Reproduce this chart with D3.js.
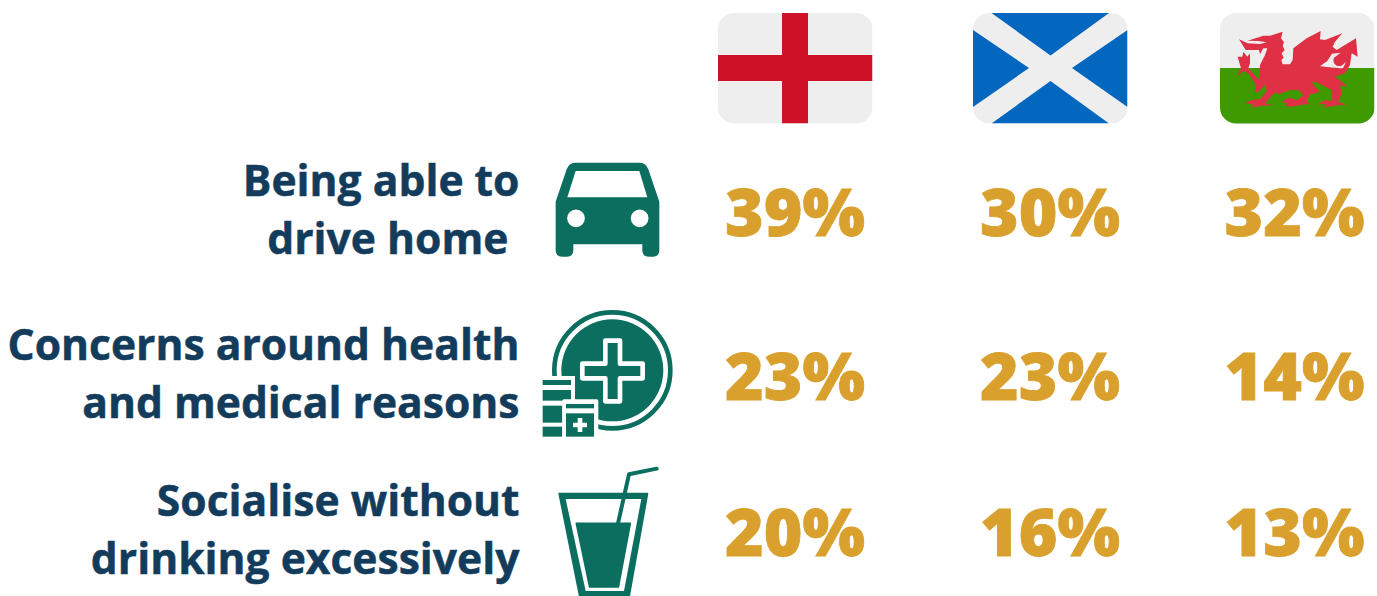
<!DOCTYPE html>
<html>
<head>
<meta charset="utf-8">
<script src="https://cdn.jsdelivr.net/npm/d3@7"></script>
<style>
html,body{margin:0;padding:0;background:#fff;overflow:hidden}
svg{display:block}
text{font-family:"Open Sans",sans-serif;white-space:pre}
</style>
</head>
<body>
<svg id="chart" width="1377" height="596"></svg>
<script>
const nations = ["England", "Scotland", "Wales"];
const reasons = ["drive", "health", "socialise"];
const reasonLines = [
  ["Being able to", "drive home "],
  ["Concerns around health", "and medical reasons"],
  ["Socialise without", "drinking excessively"]
];
const england = [39, 23, 20];
const scotland = [30, 23, 16];
const wales = [32, 14, 13];
const seriesByNation = [england, scotland, wales];

const NAVY = "#133c5c", GOLD = "#d9a02e", TEAL = "#0b6e5f", PALE = "#eeeeee";

const svg = d3.select("#chart");
const x = d3.scaleOrdinal().domain(nations).range([795, 1050, 1294.5]);
const y = d3.scaleOrdinal().domain(reasons).range([236, 400, 556]);
const flagLeft = d3.scaleOrdinal().domain(nations).range([718, 973, 1220]);
const flagW = 154.5, flagH = 110.5, flagTop = 13;

// Percentage grid
nations.forEach((n, c) => {
  svg.append("g").selectAll("text").data(seriesByNation[c]).join("text")
    .attr("x", x(n))
    .attr("y", (d, i) => y(reasons[i]))
    .attr("text-anchor", "middle")
    .attr("font-size", 66)
    .attr("font-weight", 800)
    .attr("fill", GOLD)
    .attr("stroke", GOLD)
    .attr("stroke-width", 0.8)
    .text(d => d + "%");
});

// Row labels, two right-aligned lines each
const labelRows = svg.append("g").selectAll("g").data(reasonLines).join("g")
  .attr("transform", (d, i) => `translate(519.5,${y(reasons[i]) - 40})`);
labelRows.selectAll("text").data(d => d).join("text")
  .attr("y", (d, i) => i * 58)
  .attr("text-anchor", "end")
  .attr("font-size", 42.6)
  .attr("font-weight", 700)
  .attr("fill", NAVY)
  .attr("stroke", NAVY)
  .attr("stroke-width", 0.5)
  .text(d => d);

// Flags
const defs = svg.append("defs");
nations.forEach((n, i) => {
  defs.append("clipPath").attr("id", "clip" + i).append("rect")
    .attr("x", 0).attr("y", 0).attr("width", flagW).attr("height", flagH).attr("rx", 16);
});
const flag = n => svg.append("g")
  .attr("transform", `translate(${flagLeft(n)},${flagTop})`)
  .attr("clip-path", `url(#clip${nations.indexOf(n)})`);

const fe = flag("England");
fe.append("rect").attr("width", flagW).attr("height", flagH).attr("fill", PALE);
fe.append("rect").attr("x", 64).attr("width", 26).attr("height", flagH).attr("fill", "#ce1126");
fe.append("rect").attr("y", 42).attr("width", flagW).attr("height", 26).attr("fill", "#ce1126");

const fs = flag("Scotland");
fs.append("rect").attr("width", flagW).attr("height", flagH).attr("fill", PALE);
[[[18.5,0],[136,0],[77.5,42.5]],
 [[0,17],[56,55],[0,94]],
 [[154.5,17],[99,55],[154.5,94]],
 [[18.5,110.5],[136,110.5],[77.5,68]]].forEach(t =>
  fs.append("path").attr("d", d3.line()(t) + "Z").attr("fill", "#0366bf"));

const fw = flag("Wales");
fw.append("rect").attr("width", flagW).attr("height", 55).attr("fill", PALE);
fw.append("rect").attr("y", 55).attr("width", flagW).attr("height", 56).attr("fill", "#3f9900");

// Dragon outline, traced on a 3x grid
const dragon = [[113,107],[160,92],[180,92],[218,80],[213,100],[222,112],[218,122],[224,135],[215,145],[221,158],[214,165],[218,178],[240,178],[248,165],[250,130],[290,100],[332,78],[330,103],[345,105],[397,85],[375,110],[368,125],[380,135],[438,100],[443,155],[425,145],[420,180],[405,205],[375,215],[405,238],[410,245],[390,240],[395,265],[385,290],[410,300],[385,300],[360,305],[340,308],[350,298],[325,298],[345,285],[365,288],[365,255],[345,245],[320,232],[305,232],[330,262],[300,268],[290,290],[300,297],[270,300],[245,305],[225,303],[232,295],[215,292],[235,278],[262,285],[280,270],[265,255],[240,255],[205,268],[195,262],[165,295],[190,300],[150,303],[125,308],[130,298],[105,295],[125,285],[150,283],[170,258],[165,240],[145,260],[135,263],[138,240],[115,205],[100,198],[80,215],[93,190],[83,155],[97,155],[100,140],[112,155],[120,145],[120,175],[115,190],[148,225],[150,180],[165,150],[172,130],[160,130],[150,148],[147,135],[120,135],[107,135],[87,103],[113,115],[150,117],[170,112],[145,108]];
const dragonG = svg.append("g").attr("transform", "translate(1210,5) scale(0.3333)");
dragonG.append("path").attr("d", d3.line()(dragon) + "Z").attr("fill", "#e03046");
dragonG.append("path")
  .attr("d", "M330,184 L352,168 L366,146 L392,143 L372,158 C366,172 378,188 395,182 L408,170 L400,188 C392,192 370,188 330,184Z")
  .attr("fill", PALE);

// Car icon
const car = svg.append("g").attr("transform", "translate(530,150) scale(0.3333)");
car.append("path").attr("fill", TEAL).attr("d",
  "M135,38 H330 Q348,38 355,58 L388,155 V300 Q388,320 368,320 H357 Q337,320 337,300 V283 H130 V300 Q130,320 110,320 H97 Q77,320 77,300 V155 L110,58 Q117,38 135,38Z");
car.append("path").attr("fill", "#fff").attr("d", "M137,63 H328 L352,142 H112Z");
car.append("circle").attr("cx", 138).attr("cy", 205).attr("r", 26.5).attr("fill", "#fff");
car.append("circle").attr("cx", 329).attr("cy", 205).attr("r", 26.5).attr("fill", "#fff");

// Medical icon
const med = svg.append("g").attr("transform", "translate(530,300) scale(0.3333)");
med.append("circle").attr("cx", 247).attr("cy", 211).attr("r", 174).attr("fill", "none").attr("stroke", TEAL).attr("stroke-width", 14);
med.append("circle").attr("cx", 247).attr("cy", 211).attr("r", 153).attr("fill", TEAL);
med.append("path").attr("fill", TEAL).attr("stroke", "#fff").attr("stroke-width", 14).attr("stroke-linejoin", "round")
  .attr("d", "M226,122 H270 V191 H338 V235 H270 V304 H226 V235 H157 V191 H226Z");
med.append("rect").attr("x", 20).attr("y", 228).attr("width", 115).attr("height", 200).attr("fill", "#fff");
med.append("rect").attr("x", 38).attr("y", 240).attr("width", 85).attr("height", 15).attr("fill", TEAL);
med.append("rect").attr("x", 38).attr("y", 270).attr("width", 85).attr("height", 32).attr("fill", TEAL);
med.append("rect").attr("x", 38).attr("y", 317).attr("width", 59).attr("height", 51).attr("fill", TEAL);
med.append("rect").attr("x", 38).attr("y", 380).attr("width", 59).attr("height", 30).attr("fill", TEAL);
med.append("rect").attr("x", 97).attr("y", 298).attr("width", 108).attr("height", 125).attr("rx", 5).attr("fill", "#fff");
med.append("rect").attr("x", 108).attr("y", 312).attr("width", 84).attr("height", 13).attr("fill", TEAL);
med.append("rect").attr("x", 108).attr("y", 340).attr("width", 84).attr("height", 70).attr("fill", TEAL);
med.append("path").attr("fill", "#fff").attr("d", "M143,354 H157 V368 H171 V382 H157 V396 H143 V382 H129 V368 H143Z");

// Drink icon, with the glass base running off the foot of the page
const drink = svg.append("g").attr("transform", "translate(540,460) scale(0.3333)");
drink.append("path").attr("fill", TEAL).attr("stroke", TEAL).attr("stroke-width", 6).attr("stroke-linejoin", "round")
  .attr("d", "M58,101 H322 L265,420 H122Z");
drink.append("path").attr("fill", "#fff").attr("d", "M77,117 H304 L252,393 H137Z");
drink.append("path").attr("fill", TEAL).attr("stroke", TEAL).attr("stroke-width", 5).attr("stroke-linejoin", "round")
  .attr("d", "M109,190 H271 L235,381 H149Z");
drink.append("path").attr("fill", "none").attr("stroke", TEAL).attr("stroke-width", 12)
  .attr("stroke-linecap", "round").attr("stroke-linejoin", "round")
  .attr("d", "M234,190 L267,43 L350,26");
</script>
</body>
</html>
